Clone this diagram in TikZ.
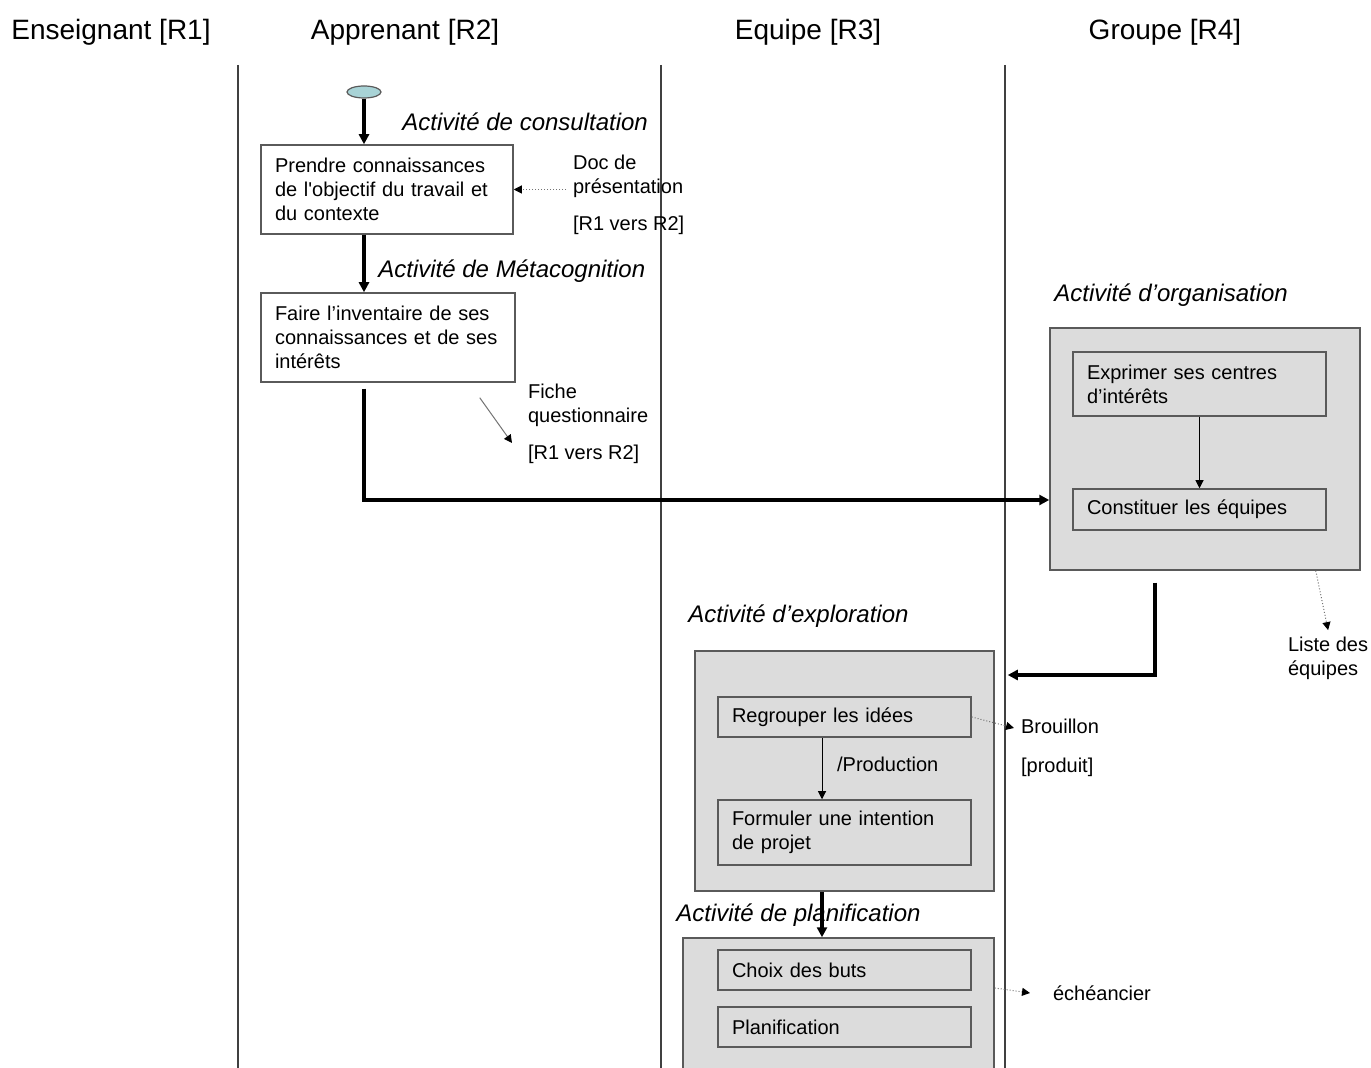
\documentclass[tikz,border=0pt]{standalone}
\usepackage{fontspec}
\setmainfont{Liberation Sans}
\usetikzlibrary{shapes.geometric,arrows.meta}
\definecolor{boxgray}{HTML}{DCDCDC}
\definecolor{edgegray}{HTML}{5A5A5A}
\definecolor{startblue}{HTML}{A8D3D6}

\begin{document}
\begin{tikzpicture}[x=0.5pt,y=-0.5pt,
  >={Triangle[length=5pt,width=5pt]},
  lane/.style={draw=black!75, line width=0.6pt},
  hdr/.style={font=\fontsize{14}{17}\selectfont},
  actlbl/.style={anchor=west, inner sep=0pt, font=\fontsize{12}{14}\selectfont\itshape},
  task/.style={draw=edgegray, line width=0.75pt, fill=white, align=left, inner xsep=7pt, font=\fontsize{10}{12}\selectfont},
  subtask/.style={task, fill=boxgray, text width=112.5pt},
  group/.style={draw=edgegray, line width=0.75pt, fill=boxgray},
  note/.style={align=left, anchor=west, font=\fontsize{10}{12}\selectfont},
  flow/.style={ultra thick, ->},
  thinflow/.style={line width=0.5pt, ->, >={Triangle[length=4pt,width=4pt]}},
  docflow/.style={black!55, line width=0.5pt, densely dotted, -{Triangle[black,length=4pt,width=4pt]}}]
		\useasboundingbox (0,0) rectangle (1371,1068);
		% lanes
		\node[hdr] (r1) at (111,32) {Enseignant [R1]};
		\node[hdr] (r2) at (405,32) {Apprenant [R2]};
		\node[hdr] (r3) at (808,32) {Equipe [R3]};
		\node[hdr] (r4) at (1165,32) {Groupe [R4]};
		\foreach \x in {238,661,1005}
			\draw[lane] (\x,65) -- (\x,1068);

		% apprenant
		\node[ellipse, draw=edgegray, fill=startblue, line width=0.6pt, inner sep=0pt, minimum width=17pt, minimum height=6pt] (debut) at (364,92) {};
		\node[task, text width=112pt, minimum height=44.5pt] (consult) at (387,189.5) {Prendre connaissances\\de l\textquotesingle objectif du travail et\\du contexte};
		\node[task, text width=113pt, minimum height=44.5pt] (inventaire) at (388,337.5) {Faire l’inventaire de ses\\connaissances et de ses\\intérêts};
		\node[actlbl] (lblconsult) at (402,122) {Activité de consultation};
		\node[actlbl] (lblmeta) at (378,271) {Activité de Métacognition};
		\node[note] (doc) at (566,194.5) {Doc de\\présentation\\[6.5pt]{[R1 vers R2]}};
		\node[note] (fiche) at (521,424) {Fiche\\questionnaire\\[6.5pt]{[R1 vers R2]}};

		% groupe
		\node[actlbl] (lblorga) at (1054,295) {Activité d’organisation};
		\node[group, minimum width=155pt, minimum height=121pt] (orga) at (1205,449) {};
		\node[subtask, minimum height=32pt] (exprimer) at (1199.5,384) {Exprimer ses centres\\d’intérêts};
		\node[subtask, minimum height=20.5pt] (constituer) at (1199.5,509.5) {Constituer les équipes};
		\node[note] (liste) at (1281,658.5) {Liste des\\équipes};

		% equipe
		\node[actlbl] (lblexplo) at (688,616) {Activité d’exploration};
		\node[group, minimum width=149.5pt, minimum height=120pt] (explo) at (844.5,771) {};
		\node[subtask, minimum height=20pt] (regrouper) at (844.5,717) {Regrouper les idées};
		\node[subtask, minimum height=32.5pt] (formuler) at (844.5,832.5) {Formuler une intention\\de projet};
		\node[note] (brouillon) at (1014,747.5) {Brouillon\\[7.5pt]{[produit]}};

		\node[actlbl] (lblplan) at (676,915) {Activité de planification};
		\node[group, minimum width=155.5pt, minimum height=76pt] (planif) at (838.5,1014) {};
		\node[subtask, minimum height=20pt] (choix) at (844.5,970) {Choix des buts};
		\node[subtask, minimum height=20pt] (planification) at (844.5,1027) {Planification};
		\node[note] (echeance) at (1046,993) {échéancier};

		% connecteurs
		\draw[flow] (debut.south) -- (debut.south |- consult.north);
		\draw[flow] (consult.south -| debut) -- (inventaire.north -| debut);
		\draw[flow] ([yshift=-3pt]inventaire.south -| debut) |- ([yshift=-25.5pt]orga.west);
		\draw[docflow] (consult.east -| doc.west) -- (consult.east);
		\draw[docflow, solid] ([shift={(-18pt,-7.5pt)}]inventaire.south east) -- ([shift={(-4.5pt,-9.5pt)}]fiche.west);
		\draw[thinflow] (exprimer) -- (constituer);
		\draw[docflow] ([xshift=-22.5pt]orga.south east) -- (liste.north);
		\draw[flow] ([shift={(-25pt,-6pt)}]orga.south) |- ([shift={(6.5pt,48pt)}]explo.east);
		\draw[thinflow] ([xshift=-11.25pt]regrouper.south) -- ([xshift=-11.25pt]formuler.north) node[midway, right=4pt, yshift=2pt, font=\fontsize{10}{12}\selectfont] {/Production};
		\draw[docflow] (regrouper.east) -- ([yshift=9.75pt]brouillon.west);
		\draw[flow] ([xshift=-11.25pt]explo.south) -- ([xshift=-11.25pt]explo.south |- planif.north);
		\draw[docflow] ([yshift=13pt]planif.east) -- ([xshift=-8pt]echeance.west);
	\end{tikzpicture}
\end{document}
